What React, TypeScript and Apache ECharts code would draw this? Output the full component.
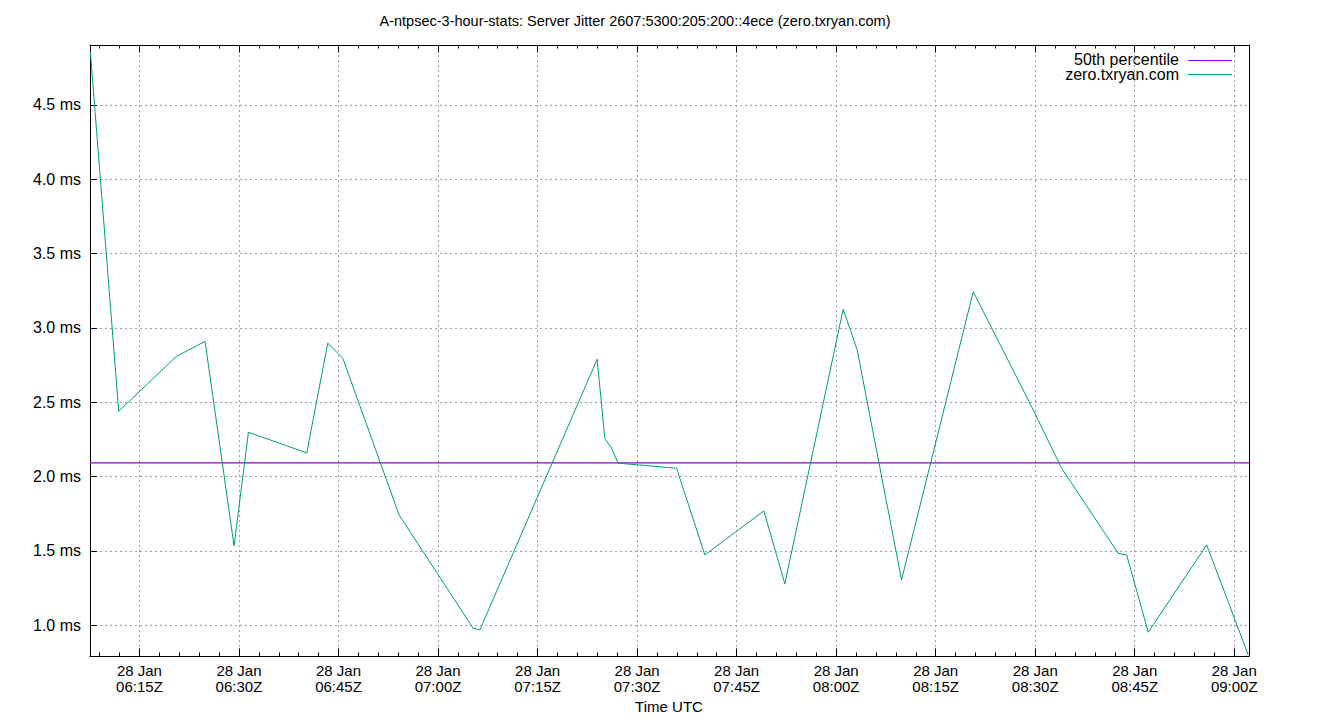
import React, { useEffect, useRef } from "react";
import * as echarts from "echarts";

// minutes since 06:00Z on 28 Jan
const jitterTimes = [
  7.6, 11.88, 20.52, 24.89, 29.26, 31.43, 40.22, 43.38, 45.65, 54.13, 65.29,
  66.3, 83.98, 85.14, 86.15, 87.14, 90.41, 95.95, 100.21, 109.11, 112.27,
  121.06, 123.17, 129.86, 140.66, 149.46, 153.98, 162.51, 163.78, 167.04,
  175.84, 182.11,
];
// ms
const jitterValues = [
  4.858, 2.439, 2.807, 2.91, 1.533, 2.298, 2.159, 2.897, 2.796, 1.742, 0.98,
  0.968, 2.789, 2.258, 2.191, 2.09, 2.078, 2.056, 1.473, 1.769, 1.278, 3.125,
  2.852, 1.305, 3.244, 2.47, 2.056, 1.484, 1.473, 0.953, 1.54, 0.8,
];
const percentile50 = 2.092;

const xMin = 7.55;
const xMax = 182.22;
const yMin = 0.793;
const yMax = 4.903;

const majorTicks = [15, 30, 45, 60, 75, 90, 105, 120, 135, 150, 165, 180];
const minorTicks = [
  9, 12, 18, 21, 24, 27, 33, 36, 39, 42, 48, 51, 54, 57, 63, 66, 69, 72, 78,
  81, 84, 87, 93, 96, 99, 102, 108, 111, 114, 117, 123, 126, 129, 132, 138,
  141, 144, 147, 153, 156, 159, 162, 168, 171, 174, 177,
];
const yTicks = [1.0, 1.5, 2.0, 2.5, 3.0, 3.5, 4.0, 4.5];

const titleText =
  "A-ntpsec-3-hour-stats: Server Jitter 2607:5300:205:200::4ece (zero.txryan.com)";
const legendNames = ["50th percentile", "zero.txryan.com"];
const colors = ["#9400d3", "#009e73"];

const FONT = "'Liberation Sans', Arial, sans-serif";

function fmtTime(v: number): string {
  const total = 6 * 60 + Math.round(v);
  const h = Math.floor(total / 60);
  const m = total % 60;
  return "28 Jan\n" + String(h).padStart(2, "0") + ":" + String(m).padStart(2, "0") + "Z";
}

export default function App() {
  const ref = useRef<HTMLDivElement>(null);
  useEffect(() => {
    document.body.style.margin = "0";
    if (!ref.current) return;
    const chart = echarts.init(ref.current, undefined, { renderer: "svg" });
    const baseX = {
      type: "value" as const,
      min: xMin,
      max: xMax,
      splitLine: { show: false },
      axisLabel: { show: false },
    };
    const option: any = {
      animation: false,
      backgroundColor: "#ffffff",
      grid: { left: 90, right: 91, top: 45, bottom: 64, containLabel: false },
      xAxis: [
        {
          ...baseX,
          position: "bottom",
          axisLine: { show: true, onZero: false, lineStyle: { color: "#000", width: 1 } },
          axisTick: { show: true, inside: true, length: 7.5, customValues: majorTicks, lineStyle: { color: "#000" } },
          axisLabel: {
            show: true,
            customValues: majorTicks,
            formatter: (v: number) => fmtTime(v),
            color: "#000",
            fontSize: 15,
            fontFamily: FONT,
            lineHeight: 16,
            margin: 6,
            align: "center",
          },
          splitLine: {
            show: true,
            lineStyle: { color: "#a0a0a0", type: [2, 3], width: 1 },
          },
        },
        {
          ...baseX,
          position: "bottom",
          axisLine: { show: false, onZero: false },
          axisTick: { show: true, inside: true, length: 3.5, customValues: minorTicks, lineStyle: { color: "#000" } },
        },
        {
          ...baseX,
          position: "top",
          axisLine: { show: true, onZero: false, lineStyle: { color: "#000", width: 1 } },
          axisTick: { show: true, inside: true, length: 7.5, customValues: majorTicks, lineStyle: { color: "#000" } },
        },
        {
          ...baseX,
          position: "top",
          axisLine: { show: false, onZero: false },
          axisTick: { show: true, inside: true, length: 3.5, customValues: minorTicks, lineStyle: { color: "#000" } },
        },
      ],
      yAxis: [
        {
          type: "value",
          min: yMin,
          max: yMax,
          position: "left",
          axisLine: { show: true, onZero: false, lineStyle: { color: "#000", width: 1 } },
          axisTick: { show: true, inside: true, length: 7, customValues: yTicks, lineStyle: { color: "#000" } },
          axisLabel: {
            show: true,
            customValues: yTicks,
            formatter: (v: number) => v.toFixed(1) + " ms",
            color: "#000",
            fontSize: 16,
            fontFamily: FONT,
            margin: 9,
          },
          splitLine: {
            show: true,
            lineStyle: { color: "#a0a0a0", type: [2, 3], width: 1 },
          },
        },
        {
          type: "value",
          min: yMin,
          max: yMax,
          position: "right",
          axisLine: { show: true, onZero: false, lineStyle: { color: "#000", width: 1 } },
          axisTick: { show: false },
          axisLabel: { show: false },
          splitLine: { show: false },
        },
      ],
      series: [
        {
          name: legendNames[0],
          type: "line",
          xAxisIndex: 0,
          yAxisIndex: 0,
          data: [
            [xMin, percentile50],
            [xMax, percentile50],
          ],
          showSymbol: false,
          symbol: "none",
          lineStyle: { color: colors[0], width: 1.2 },
          itemStyle: { color: colors[0] },
          silent: true,
        },
        {
          name: legendNames[1],
          type: "line",
          xAxisIndex: 0,
          yAxisIndex: 0,
          data: jitterTimes.map((t, i) => [t, jitterValues[i]]),
          showSymbol: false,
          symbol: "none",
          lineStyle: { color: colors[1], width: 1 },
          itemStyle: { color: colors[1] },
          silent: true,
        },
      ],
      graphic: [
        {
          type: "text",
          x: 635,
          y: 21,
          style: {
            text: titleText,
            fontSize: 14.5,
            fontFamily: FONT,
            fill: "#000",
            align: "center",
            verticalAlign: "middle",
          },
        },
        {
          type: "text",
          x: 669,
          y: 706,
          style: {
            text: "Time UTC",
            fontSize: 15,
            fontFamily: FONT,
            fill: "#000",
            align: "center",
            verticalAlign: "middle",
          },
        },
        ...legendNames.flatMap((name, i) => [
          {
            type: "text",
            x: 1179,
            y: 59 + i * 15.5,
            style: {
              text: name,
              fontSize: 16,
              fontFamily: FONT,
              fill: "#000",
              align: "right",
              verticalAlign: "middle",
            },
          },
          {
            type: "line",
            shape: { x1: 1188, y1: 60.5 + i * 14, x2: 1232, y2: 60.5 + i * 14 },
            style: { stroke: colors[i], lineWidth: 1 },
          },
        ]),
      ],
    };
    chart.setOption(option);
    return () => chart.dispose();
  }, []);
  return <div ref={ref} style={{ width: 1340, height: 720 }} />;
}
